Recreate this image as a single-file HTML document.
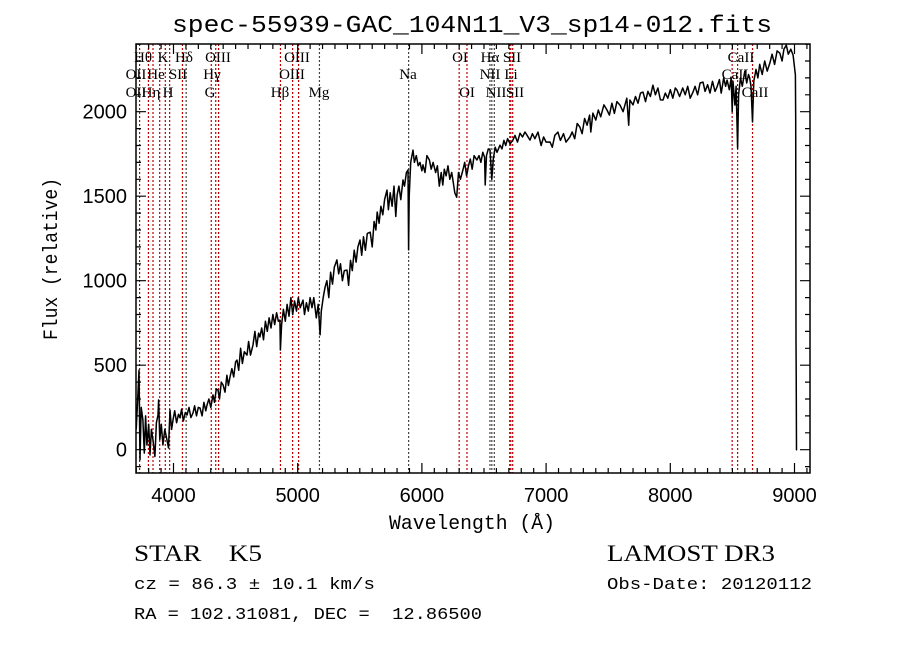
<!DOCTYPE html>
<html><head><meta charset="utf-8"><style>
html,body{margin:0;padding:0;background:#fff;}
svg{display:block;}
text{font-family:"Liberation Sans",sans-serif;fill:#000;white-space:pre;}
.ser{font-family:"Liberation Serif",serif;}
.mono{font-family:"Liberation Mono",monospace;}
</style></head><body>
<svg id="chart" width="900" height="649" viewBox="0 0 900 649" xmlns="http://www.w3.org/2000/svg" xml:space="preserve">
<rect width="900" height="649" fill="#fff"/>
<text class="mono" x="472" y="32" font-size="24" text-anchor="middle" textLength="600" lengthAdjust="spacingAndGlyphs">spec-55939-GAC_104N11_V3_sp14-012.fits</text>
<g id="lines"></g>
<g id="spec"></g>
<g id="axes"></g>
<text class="mono" x="472" y="529" font-size="20" text-anchor="middle" textLength="166" lengthAdjust="spacingAndGlyphs">Wavelength (Å)</text>
<text class="mono" x="0" y="0" font-size="20" text-anchor="middle" textLength="162" lengthAdjust="spacingAndGlyphs" transform="translate(57,259) rotate(-90)">Flux (relative)</text>
<text class="ser" x="134" y="561" font-size="23" textLength="128" lengthAdjust="spacingAndGlyphs">STAR    K5</text>
<text class="ser" x="607" y="561" font-size="23" textLength="168" lengthAdjust="spacingAndGlyphs">LAMOST DR3</text>
<text class="mono" x="134" y="589" font-size="17" textLength="241" lengthAdjust="spacingAndGlyphs">cz = 86.3 ± 10.1 km/s</text>
<text class="mono" x="607" y="589" font-size="17" textLength="205" lengthAdjust="spacingAndGlyphs">Obs-Date: 20120112</text>
<text class="mono" x="134" y="619" font-size="17" textLength="348" lengthAdjust="spacingAndGlyphs">RA = 102.31081, DEC =  12.86500</text>
</svg>
<script>
const wave=[3700,3712,3722,3730,3740,3754,3765,3775,3786,3800,3811,3822,3835,3850,3862,3875,3880,3890,3902,3915,3930,3948,3960,3972,3985,3996,4010,4025,4040,4052,4065,4080,4095,4109,4125,4140,4157,4170,4185,4200,4213,4230,4245,4260,4270,4285,4300,4318,4330,4345,4358,4370,4385,4399,4415,4430,4442,4455,4470,4485,4500,4511,4525,4540,4555,4570,4592,4605,4620,4640,4655,4670,4685,4696,4710,4725,4740,4755,4770,4785,4800,4815,4830,4845,4857,4861,4870,4885,4900,4915,4930,4945,4960,4975,4990,5005,5020,5043,5055,5070,5085,5100,5115,5130,5150,5165,5180,5190,5205,5220,5235,5250,5265,5280,5295,5316,5330,5345,5360,5375,5397,5410,5425,5440,5455,5470,5485,5502,5515,5530,5545,5560,5584,5600,5615,5630,5640,5655,5670,5685,5700,5719,5730,5745,5760,5775,5790,5800,5815,5830,5848,5860,5875,5888,5893,5898,5910,5928,5940,5955,5970,5985,6000,6009,6025,6040,6060,6075,6090,6110,6125,6140,6155,6168,6180,6195,6210,6225,6240,6250,6265,6280,6295,6310,6330,6345,6360,6375,6390,6405,6420,6443,6460,6475,6490,6505,6510,6520,6535,6548,6563,6575,6590,6605,6629,6645,6660,6675,6690,6710,6733,6750,6770,6790,6810,6830,6846,6870,6890,6910,6935,6960,6980,7000,7031,7050,7070,7095,7115,7140,7160,7192,7210,7230,7250,7272,7290,7310,7330,7350,7360,7377,7400,7420,7440,7465,7490,7510,7530,7550,7570,7595,7620,7650,7665,7675,7700,7720,7740,7760,7780,7800,7820,7840,7860,7880,7900,7920,7941,7960,7980,8000,8020,8040,8054,8075,8100,8120,8140,8160,8183,8200,8220,8240,8263,8280,8300,8320,8340,8360,8376,8395,8410,8430,8445,8457,8475,8490,8498,8505,8520,8530,8542,8550,8565,8580,8600,8615,8630,8639,8650,8662,8672,8690,8705,8720,8740,8760,8780,8802,8820,8840,8860,8882,8900,8915,8934,8950,8970,8989,9007,9010,9012,9014,9016,9022];
const flux=[120,300,470,-60,250,176,-20,200,28,150,-31,120,57,-40,160,205,294,60,150,28,120,57,10,235,120,176,230,160,210,188,240,170,220,205,250,190,217,260,200,250,247,200,280,230,264,300,250,324,280,360,353,300,400,383,340,440,380,430,480,430,520,530,470,600,510,580,560,640,560,620,700,610,690,667,720,650,760,700,780,720,800,740,810,760,767,590,740,830,760,860,790,900,800,880,820,900,840,885,800,870,820,900,840,900,780,860,680,820,900,960,1000,900,1050,980,1080,1123,1040,1100,1000,1060,1063,973,1120,1060,1180,1110,1200,1241,1150,1260,1180,1280,1287,1200,1350,1300,1406,1340,1440,1390,1480,1536,1420,1520,1440,1560,1380,1506,1560,1480,1596,1560,1640,1655,1182,1500,1700,1773,1700,1740,1680,1700,1650,1685,1640,1740,1714,1660,1700,1640,1680,1560,1640,1566,1660,1620,1680,1600,1640,1596,1520,1494,1640,1600,1655,1700,1620,1680,1720,1660,1740,1714,1740,1700,1760,1730,1566,1740,1780,1773,1600,1720,1790,1760,1802,1780,1830,1800,1840,1810,1832,1860,1820,1873,1850,1880,1861,1832,1870,1840,1879,1800,1850,1820,1821,1790,1860,1879,1830,1870,1820,1850,1880,1840,1930,1909,1870,1960,1920,1980,1880,1992,1950,2010,1970,2040,2010,1980,2050,1990,2060,2039,2000,2080,1920,2069,2040,2090,2050,2110,2116,2060,2120,2090,2157,2100,2140,2070,2069,2110,2080,2130,2080,2140,2128,2090,2140,2100,2150,2080,2116,2150,2100,2170,2175,2120,2160,2110,2180,2120,2146,2190,2110,2200,2150,2187,2130,2200,2000,2180,2039,2150,1784,2100,2200,2150,2240,2170,2220,2199,2150,1939,2180,2250,2200,2280,2220,2300,2240,2289,2340,2280,2360,2347,2300,2370,2394,2340,2370,2335,2217,1950,650,455,0,0];
const lineWaves=[3727,3798,3835,3889,3934,3969,4072,4102,4304,4340,4363,4861,4959,5007,5175,5893,6300,6363,6548,6563,6583,6707,6716,6731,8498,8542,8662];
const lineKinds=["r","r","r","r","r","r","r","k","r","r","r","r","r","r","k","k","r","r","k","k","k","r","r","r","r","r","r"];
const lineLabels=[["Hθ",143,57],["K",163,57],["Hδ",184,57],["OIII",218,57],["OIII",297,57],["OI",460,57],["Hα",490,57],["SII",512,57],["CaII",741,57],
["OII",136,74],["He",156,74],["SII",178,74],["Hγ",212,74],["OIII",292,74],["Na",408,74],["NII",490,74],["Li",511,74],["CaII",735,74],
["OII",136,92],["Hη",151,92],["H",168,92],["G",210,92],["Hβ",280,92],["Mg",319,92],["OI",467,92],["NII",496,92],["SII",515,92],["CaII",755,92]];
const xTicks=[4000,5000,6000,7000,8000,9000];
const yTicks=[0,500,1000,1500,2000];
const L=136,R=810,T=44,B=473;
function X(w){return 173.5+(w-4000)*0.1242;}
function Y(f){return 449.7-f*0.169;}
const NS="http://www.w3.org/2000/svg";
function mk(tag,parent){const e=document.createElementNS(NS,tag);parent.appendChild(e);return e;}
const lg=document.getElementById('lines');
lineWaves.forEach((w,i)=>{const l=mk('line',lg);


l.setAttribute('x1',X(w));l.setAttribute('x2',X(w));l.setAttribute('y1',T);l.setAttribute('y2',B);
l.setAttribute('stroke',lineKinds[i]==="r"?"#c00000":"#444");l.setAttribute('stroke-width','1.2');l.setAttribute('stroke-dasharray','2,2');});
lineLabels.forEach(a=>{const t=mk('text',lg);


t.setAttribute('class','ser');t.setAttribute('x',a[1]);t.setAttribute('y',a[2]+5);t.setAttribute('font-size','15');t.setAttribute('text-anchor','middle');t.textContent=a[0];});
const sg=document.getElementById('spec');
let d='';wave.forEach((w,i)=>{d+=(i?'L':'M')+X(w).toFixed(1)+','+Y(flux[i]).toFixed(1);});
const p=mk('path',sg);


p.setAttribute('d',d);p.setAttribute('fill','none');p.setAttribute('stroke','#000');p.setAttribute('stroke-width','1.5');p.setAttribute('stroke-linejoin','round');
const ag=document.getElementById('axes');
const fr=mk('rect',ag);


fr.setAttribute('x',L);fr.setAttribute('y',T);fr.setAttribute('width',R-L);fr.setAttribute('height',B-T);fr.setAttribute('fill','none');fr.setAttribute('stroke','#000');fr.setAttribute('stroke-width','1.5');
let td='';
for(let w=3700;w<=9100;w+=100){const x=X(w);if(x<L||x>R)continue;const len=(w%1000===0)?10:5;td+=`M${x},${B}v${-len}M${x},${T}v${len}`;}
for(let f=-100;f<=2400;f+=100){const y=Y(f);if(y<T||y>B)continue;const len=(f%500===0)?10:5;td+=`M${L},${y}h${len}M${R},${y}h${-len}`;}
const tp=mk('path',ag);


tp.setAttribute('d',td);tp.setAttribute('stroke','#000');tp.setAttribute('stroke-width','1.2');
xTicks.forEach(w=>{const t=mk('text',ag);


t.setAttribute('x',X(w));t.setAttribute('y',502);t.setAttribute('font-size','20');t.setAttribute('text-anchor','middle');t.textContent=w;});
yTicks.forEach(f=>{const t=mk('text',ag);


t.setAttribute('x',127);t.setAttribute('y',Y(f)+7);t.setAttribute('font-size','20');t.setAttribute('text-anchor','end');t.textContent=f;});
</script>
</body></html>
